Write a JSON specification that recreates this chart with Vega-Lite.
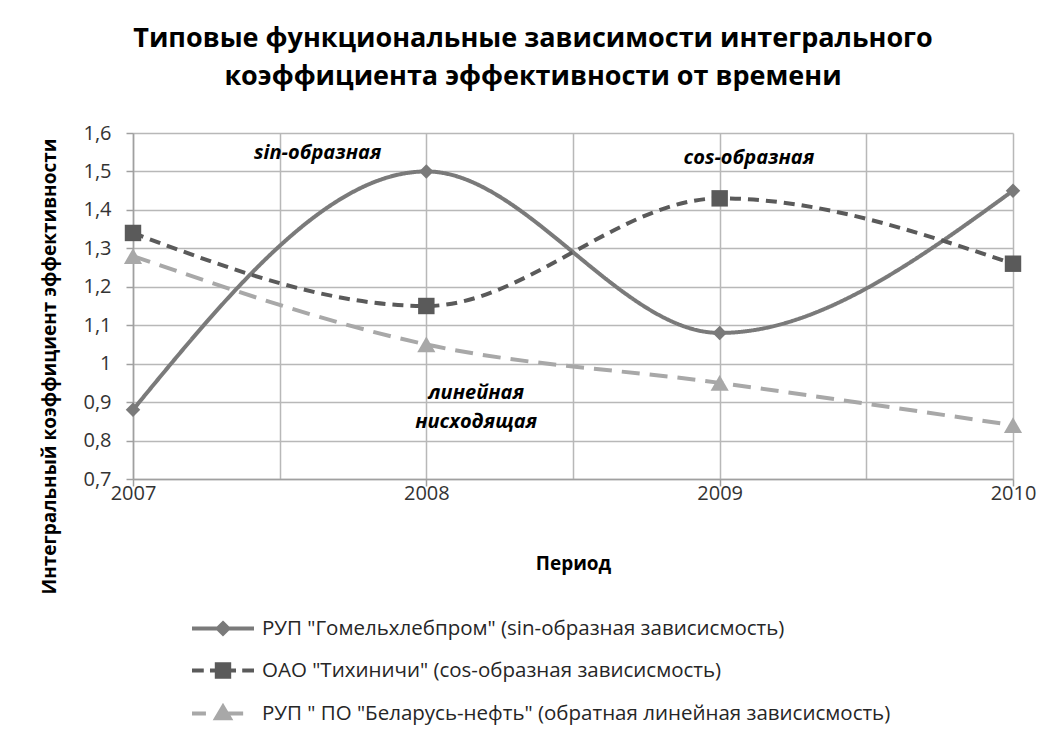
{
  "$schema": "https://vega.github.io/schema/vega-lite/v6.json",
  "width": 880,
  "height": 346,
  "autosize": "none",
  "padding": {"left": 133, "top": 133, "right": 50, "bottom": 264},
  "background": "white",
  "title": {
    "text": ["Типовые функциональные зависимости интегрального", "коэффициента эффективности от времени"],
    "font": "Open Sans",
    "fontSize": 27,
    "fontWeight": "bold",
    "color": "#000000",
    "anchor": "middle",
    "frame": "group",
    "dx": -40,
    "offset": 32,
    "lineHeight": 38
  },
  "config": {
    "font": "Open Sans",
    "view": {"stroke": null}
  },
  "datasets": {
    "series": [
      {"year": 2007, "value": 0.88, "series": "РУП \"Гомельхлебпром\" (sin-образная зависисмость)"},
      {"year": 2008, "value": 1.50, "series": "РУП \"Гомельхлебпром\" (sin-образная зависисмость)"},
      {"year": 2009, "value": 1.08, "series": "РУП \"Гомельхлебпром\" (sin-образная зависисмость)"},
      {"year": 2010, "value": 1.45, "series": "РУП \"Гомельхлебпром\" (sin-образная зависисмость)"},
      {"year": 2007, "value": 1.34, "series": "ОАО \"Тихиничи\"  (cos-образная зависисмость)"},
      {"year": 2008, "value": 1.15, "series": "ОАО \"Тихиничи\"  (cos-образная зависисмость)"},
      {"year": 2009, "value": 1.43, "series": "ОАО \"Тихиничи\"  (cos-образная зависисмость)"},
      {"year": 2010, "value": 1.26, "series": "ОАО \"Тихиничи\"  (cos-образная зависисмость)"},
      {"year": 2007, "value": 1.28, "series": "РУП \" ПО \"Беларусь-нефть\" (обратная линейная зависисмость)"},
      {"year": 2008, "value": 1.05, "series": "РУП \" ПО \"Беларусь-нефть\" (обратная линейная зависисмость)"},
      {"year": 2009, "value": 0.95, "series": "РУП \" ПО \"Беларусь-нефть\" (обратная линейная зависисмость)"},
      {"year": 2010, "value": 0.84, "series": "РУП \" ПО \"Беларусь-нефть\" (обратная линейная зависисмость)"}
    ],
    "notes": [
      {"year": 2007.63, "value": 1.548, "label": "sin-образная"},
      {"year": 2009.10, "value": 1.535, "label": "cos-образная"},
      {"year": 2008.17, "value": 0.924, "label": "линейная"},
      {"year": 2008.17, "value": 0.848, "label": "нисходящая"}
    ]
  },
  "layer": [
    {
      "data": {"name": "series"},
      "mark": {"type": "line", "interpolate": "monotone", "strokeWidth": 4},
      "encoding": {
        "x": {
          "field": "year", "type": "quantitative",
          "scale": {"domain": [2007, 2010], "nice": false, "zero": false},
          "axis": {
            "values": [2007, 2007.5, 2008, 2008.5, 2009, 2009.5, 2010],
            "tickCount": 10,
            "labelExpr": "datum.value % 1 == 0 ? '' + datum.value : ''",
            "labelOverlap": false, "labelFlush": false,
            "grid": true, "gridColor": "#b8b8b8", "gridWidth": 1.5,
            "domainColor": "#a0a0a0", "domainWidth": 1.5,
            "tickColor": "#a0a0a0", "tickSize": 7, "tickWidth": 1.5,
            "tickOpacity": {"condition": {"test": "datum.value % 1 != 0", "value": 0}, "value": 1},
            "labelFont": "Open Sans", "labelFontSize": 20, "labelColor": "#333333", "labelPadding": -3,
            "title": "Период", "titleFont": "Open Sans", "titleFontSize": 19, "titleFontWeight": "bold", "titleColor": "#000000",
            "titleY": 84, "titleBaseline": "middle"
          }
        },
        "y": {
          "field": "value", "type": "quantitative",
          "scale": {"domain": [0.7, 1.6], "nice": false, "zero": false},
          "axis": {
            "values": [0.7, 0.8, 0.9, 1, 1.1, 1.2, 1.3, 1.4, 1.5, 1.6],
            "tickCount": 12,
            "labelExpr": "replace(format(datum.value, '.1~f'), '.', ',')",
            "labelOverlap": false, "labelFlush": false,
            "grid": true, "gridColor": "#b8b8b8", "gridWidth": 1.5,
            "domainColor": "#a0a0a0", "domainWidth": 1.5,
            "tickColor": "#a0a0a0", "tickSize": 7, "tickWidth": 1.5,
            "labelFont": "Open Sans", "labelFontSize": 20, "labelColor": "#333333", "labelPadding": 15,
            "title": "Интегральный коэффициент эффективности", "titleFont": "Open Sans", "titleFontSize": 19, "titleFontWeight": "bold", "titleColor": "#000000",
            "titleX": -84, "titleY": 233, "titleAlign": "center", "titleBaseline": "middle"
          }
        },
        "color": {
          "field": "series", "type": "nominal",
          "scale": {
            "domain": ["РУП \"Гомельхлебпром\" (sin-образная зависисмость)", "ОАО \"Тихиничи\"  (cos-образная зависисмость)", "РУП \" ПО \"Беларусь-нефть\" (обратная линейная зависисмость)"],
            "range": ["#7a7a7a", "#5a5a5a", "#a8a8a8"]
          },
          "legend": null
        },
        "strokeDash": {
          "field": "series", "type": "nominal",
          "scale": {
            "domain": ["РУП \"Гомельхлебпром\" (sin-образная зависисмость)", "ОАО \"Тихиничи\"  (cos-образная зависисмость)", "РУП \" ПО \"Беларусь-нефть\" (обратная линейная зависисмость)"],
            "range": [[1, 0], [11, 7], [18, 10]]
          },
          "legend": null
        }
      }
    },
    {
      "data": {"name": "series"},
      "mark": {"type": "point", "filled": true, "opacity": 1},
      "encoding": {
        "x": {"field": "year", "type": "quantitative"},
        "y": {"field": "value", "type": "quantitative"},
        "color": {
          "field": "series", "type": "nominal",
          "scale": {
            "domain": ["РУП \"Гомельхлебпром\" (sin-образная зависисмость)", "ОАО \"Тихиничи\"  (cos-образная зависисмость)", "РУП \" ПО \"Беларусь-нефть\" (обратная линейная зависисмость)"],
            "range": ["#7a7a7a", "#5a5a5a", "#a8a8a8"]
          },
          "legend": null
        },
        "shape": {
          "field": "series", "type": "nominal",
          "scale": {
            "domain": ["РУП \"Гомельхлебпром\" (sin-образная зависисмость)", "ОАО \"Тихиничи\"  (cos-образная зависисмость)", "РУП \" ПО \"Беларусь-нефть\" (обратная линейная зависисмость)"],
            "range": ["diamond", "square", "triangle-up"]
          },
          "legend": null
        },
        "size": {
          "field": "series", "type": "ordinal",
          "scale": {
            "domain": ["РУП \"Гомельхлебпром\" (sin-образная зависисмость)", "ОАО \"Тихиничи\"  (cos-образная зависисмость)", "РУП \" ПО \"Беларусь-нефть\" (обратная линейная зависисмость)"],
            "range": [210, 330, 300]
          },
          "legend": null
        }
      }
    },
    {
      "data": {"name": "series"},
      "mark": {"type": "point", "filled": false, "opacity": 0},
      "encoding": {
        "x": {"field": "year", "type": "quantitative"},
        "y": {"field": "value", "type": "quantitative"},
        "color": {
          "field": "series", "type": "nominal",
          "scale": {
            "domain": ["РУП \"Гомельхлебпром\" (sin-образная зависисмость)", "ОАО \"Тихиничи\"  (cos-образная зависисмость)", "РУП \" ПО \"Беларусь-нефть\" (обратная линейная зависисмость)"],
            "range": ["#7a7a7a", "#5a5a5a", "#a8a8a8"]
          },
          "legend": {
            "orient": "none", "legendX": 72.5, "legendY": 478, "direction": "vertical", "title": null,
            "labelFont": "Open Sans", "labelFontSize": 20.5, "labelColor": "#262626", "labelLimit": 0, "labelOffset": 21.5,
            "symbolSize": 961, "symbolStrokeWidth": 4, "symbolOpacity": 1, "rowPadding": 11
          }
        },
        "shape": {
          "field": "series", "type": "nominal",
          "scale": {
            "domain": ["РУП \"Гомельхлебпром\" (sin-образная зависисмость)", "ОАО \"Тихиничи\"  (cos-образная зависисмость)", "РУП \" ПО \"Беларусь-нефть\" (обратная линейная зависисмость)"],
            "range": [
              "M-2,0H2M0,-0.34L0.34,0L0,0.34L-0.34,0ZM0,-0.14L0.14,0L0,0.14L-0.14,0Z",
              "M-2,0H-1.24M-0.84,0H0.84M1.24,0H2M-0.4,-0.4H0.4V0.4H-0.4ZM-0.2,-0.2H0.2V0.2H-0.2Z",
              "M-2,0H-1.1M-0.1,0H1.3M0,-0.44L0.44,0.3H-0.44ZM0,-0.2L0.2,0.16H-0.2Z"
            ]
          },
          "legend": {
            "orient": "none", "legendX": 72.5, "legendY": 478, "direction": "vertical", "title": null,
            "labelFont": "Open Sans", "labelFontSize": 20.5, "labelColor": "#262626", "labelLimit": 0, "labelOffset": 21.5,
            "symbolSize": 961, "symbolStrokeWidth": 4, "symbolOpacity": 1, "rowPadding": 11
          }
        }
      }
    },
    {
      "data": {"name": "notes"},
      "mark": {"type": "text", "font": "Open Sans", "fontSize": 20, "fontWeight": "bold", "fontStyle": "italic", "color": "#000000", "align": "center", "baseline": "middle"},
      "encoding": {
        "x": {"field": "year", "type": "quantitative"},
        "y": {"field": "value", "type": "quantitative"},
        "text": {"field": "label", "type": "nominal"}
      }
    }
  ],
  "resolve": {"scale": {"color": "independent", "shape": "independent", "size": "independent"}}
}
